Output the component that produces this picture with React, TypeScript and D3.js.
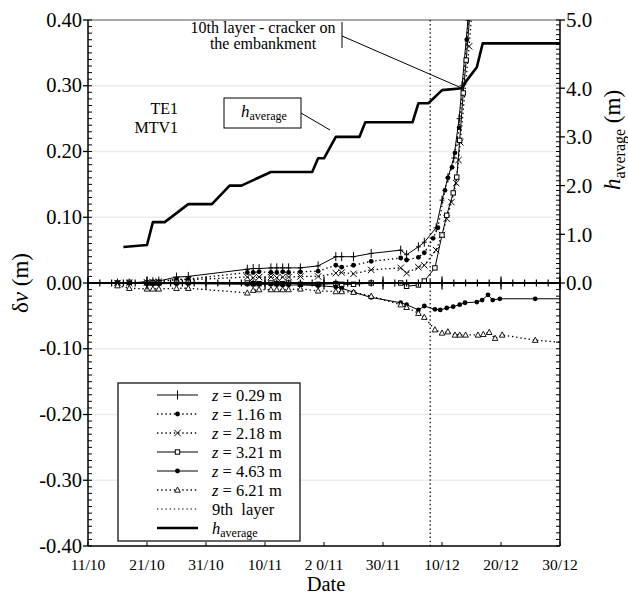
import React from 'react';
import * as d3 from 'd3';

const YEAR = 2008;
const parseD = (s: string) => {
  const [d, m] = s.replace(/\s/g, '').split('/');
  return new Date(Date.UTC(YEAR, +m - 1, 1) + (parseFloat(d) - 1) * 864e5);
};

// ---- axis ticks ----
const xTickLabels = ['11/10', '21/10', '31/10', '10/11', '2 0/11', '30/11', '10/12', '20/12', '30/12'];
const yLeftTicks = [-0.4, -0.3, -0.2, -0.1, 0, 0.1, 0.2, 0.3, 0.4];
const yRightTickValues = [0, 1, 2, 3, 4, 5.4];
const yRightTickLabels = ['0.0', '1.0', '2.0', '3.0', '4.0', '5.0'];

// ---- measurement data (dd/mm) ----
const earlyDates = ['16/10', '18/10', '21/10', '22/10', '23/10', '26/10', '28/10', '7/11', '8/11', '9/11', '11/11', '12/11', '13/11', '14/11', '16/11', '19/11', '22/11', '23/11', '25/11', '28/11', '3/12', '4/12', '6/12', '7/12'];

const z029Early = [0.0, 0.0, 0.002, 0.002, 0.003, 0.009, 0.01, 0.021, 0.022, 0.022, 0.023, 0.023, 0.023, 0.023, 0.023, 0.026, 0.04, 0.04, 0.04, 0.045, 0.05, 0.043, 0.055, 0.062];
const z029LateDates = ['9/12', '10/12', '11/12', '12/12', '12.9/12', '13.4/12', '14.4/12', '15.2/12'];
const z029Late = [0.084, 0.126, 0.16, 0.19, 0.25, 0.3, 0.4, 0.47];

const z116Early = [0.0, 0.0, 0.001, 0.002, 0.002, 0.006, 0.006, 0.016, 0.016, 0.017, 0.016, 0.016, 0.017, 0.016, 0.017, 0.018, 0.027, 0.024, 0.027, 0.033, 0.038, 0.035, 0.039, 0.046];
const z116LateDates = ['8.5/12', '9.3/12', '10.5/12', '11/12', '11.7/12', '12.2/12', '12.9/12', '14.2/12', '15/12'];
const z116Late = [0.068, 0.084, 0.141, 0.16, 0.176, 0.198, 0.236, 0.37, 0.45];

const z218Early = [0.0, 0.0, 0.001, 0.001, 0.002, 0.005, 0.005, 0.009, 0.008, 0.009, 0.009, 0.008, 0.009, 0.009, 0.01, 0.01, 0.015, 0.016, 0.014, 0.02, 0.023, 0.015, 0.024, 0.027];
const z218LateDates = ['9/12', '10/12', '10.8/12', '11.6/12', '12.4/12', '12.8/12', '13.1/12', '14.6/12', '15.4/12'];
const z218Late = [0.05, 0.073, 0.098, 0.123, 0.152, 0.187, 0.214, 0.36, 0.45];

const z321Early = [0.0, 0.001, 0.0, 0.0, 0.0, 0.001, 0.001, 0.0, -0.001, -0.001, 0.0, -0.001, -0.001, 0.0, -0.002, -0.002, -0.001, -0.002, -0.002, 0.0, 0.0, -0.005, -0.003, 0.003];
const z321LateDates = ['8.8/12', '10/12', '10.8/12', '11.9/12', '12.5/12', '13/12', '13.6/12', '14.1/12', '15/12'];
const z321Late = [0.023, 0.073, 0.103, 0.137, 0.161, 0.217, 0.289, 0.339, 0.44];

const z463Early = [0.0, 0.0, -0.001, -0.001, -0.001, -0.001, -0.001, -0.002, -0.002, -0.002, -0.002, -0.002, -0.003, -0.003, -0.003, -0.004, -0.006, -0.008, -0.014, -0.022, -0.03, -0.033, -0.041, -0.035];
const z463LateDates = ['8.8/12', '9.7/12', '10.8/12', '11.9/12', '13/12', '13.9/12', '15.9/12', '16.8/12', '17.8/12', '18.6/12', '19.8/12', '25.8/12', '30/12'];
const z463Late = [-0.04, -0.041, -0.038, -0.036, -0.033, -0.03, -0.029, -0.026, -0.018, -0.026, -0.024, -0.024, -0.024];

const z621Early = [-0.004, -0.008, -0.009, -0.009, -0.009, -0.008, -0.008, -0.015, -0.011, -0.01, -0.01, -0.01, -0.01, -0.01, -0.009, -0.012, -0.013, -0.013, -0.014, -0.02, -0.033, -0.037, -0.046, -0.052];
const z621LateDates = ['8.8/12', '10/12', '11/12', '12.2/12', '13/12', '14/12', '16.1/12', '17/12', '18/12', '19/12', '20.2/12', '25.8/12', '30/12'];
const z621Late = [-0.071, -0.076, -0.074, -0.079, -0.079, -0.079, -0.079, -0.078, -0.075, -0.084, -0.079, -0.087, -0.09];

const hDates = ['17/10', '21/10', '22/10', '24/10', '28/10', '1/11', '4/11', '6/11', '11/11', '18/11', '19/11', '20/11', '22/11', '26/11', '27/11', '5/12', '6/12', '7.7/12', '10/12', '13.4/12', '14.2/12', '15.9/12', '16.9/12', '30/12'];
const hValues = [0.74, 0.78, 1.25, 1.25, 1.62, 1.62, 2.0, 2.0, 2.28, 2.28, 2.56, 2.56, 3.0, 3.0, 3.3, 3.3, 3.69, 3.69, 3.96, 4.0, 4.16, 4.43, 4.92, 4.92];

const ninthLayerDate = '8/12';

type MarkerType = 'plus' | 'dot' | 'cross' | 'square' | 'triangle';
const seriesLabels = ['0.29', '1.16', '2.18', '3.21', '4.63', '6.21'];
const seriesDashed = [false, true, true, false, false, true];
const seriesMarkers: MarkerType[] = ['plus', 'dot', 'cross', 'square', 'dot', 'triangle'];
const seriesEarly = [z029Early, z116Early, z218Early, z321Early, z463Early, z621Early];
const seriesLateDates = [z029LateDates, z116LateDates, z218LateDates, z321LateDates, z463LateDates, z621LateDates];
const seriesLate = [z029Late, z116Late, z218Late, z321Late, z463Late, z621Late];

// ---- layout ----
const W = 628, H = 596;
const L = 88, R = 560, T = 20, B = 546;
const FONT = "'Liberation Serif', 'Times New Roman', 'DejaVu Serif', serif";
const DOT = '1.4 2.8';

const x = d3.scaleUtc().domain([parseD('11/10'), parseD('30/12')]).range([L, R]);
const yL = d3.scaleLinear().domain([-0.4, 0.4]).range([B, T]);
const yR = d3.scaleLinear().domain([0, 5.4]).range([yL(0), T]);

function Marker({ type, cx, cy, legend }: { type: MarkerType; cx: number; cy: number; legend?: boolean }) {
  switch (type) {
    case 'plus':
      return (
        <g stroke="#000" strokeWidth={1}>
          <line x1={cx} y1={cy - 4.5} x2={cx} y2={cy + 4.5} />
          {!legend && <line x1={cx - 2.5} y1={cy} x2={cx + 2.5} y2={cy} />}
        </g>
      );
    case 'dot':
      return <circle cx={cx} cy={cy} r={2.4} fill="#000" />;
    case 'cross':
      return (
        <g stroke="#000" strokeWidth={1}>
          <line x1={cx - 3.2} y1={cy - 3.2} x2={cx + 3.2} y2={cy + 3.2} />
          <line x1={cx - 3.2} y1={cy + 3.2} x2={cx + 3.2} y2={cy - 3.2} />
        </g>
      );
    case 'square':
      return <rect x={cx - 2.2} y={cy - 2.2} width={4.4} height={4.4} fill="#fff" stroke="#000" strokeWidth={1} />;
    case 'triangle':
      return <path d={`M${cx},${cy - 3}L${cx + 2.8},${cy + 2.2}L${cx - 2.8},${cy + 2.2}Z`} fill="#fff" stroke="#000" strokeWidth={0.9} />;
  }
  return null;
}

export default function App() {
  const line = d3
    .line<[Date, number]>()
    .x((d) => x(d[0]))
    .y((d) => yL(d[1]));
  const hLine = d3
    .line<[Date, number]>()
    .x((d) => x(d[0]))
    .y((d) => yR(d[1]));

  const series = seriesLabels.map((lab, i) => {
    const pts: [Date, number][] = [
      ...earlyDates.map((d, j) => [parseD(d), seriesEarly[i][j]] as [Date, number]),
      ...seriesLateDates[i].map((d, j) => [parseD(d), seriesLate[i][j]] as [Date, number]),
    ];
    return { lab, pts, dashed: seriesDashed[i], marker: seriesMarkers[i] };
  });
  const hPts: [Date, number][] = hDates.map((d, i) => [parseD(d), hValues[i]]);

  const xTicks = xTickLabels.map((l) => ({ l, v: parseD(l) }));
  const start = parseD('11/10');
  const minorX = d3.range(0, 81, 2).map((k) => new Date(+start + k * 864e5));
  const minorYL = d3.range(-40, 41).map((k) => k / 100);
  const minorYR = d3.range(0, 55).map((k) => k / 10);
  const domainEnd = +parseD('30/12');

  const y0 = yL(0);
  const x9 = x(parseD(ninthLayerDate));

  const legendX = 118, legendY = 383, legendW = 182, legendH = 158;
  const rowY = (i: number) => 395 + i * 19;
  const lx1 = 157, lx2 = 198, ltx = 212;

  const anchorX = x(parseD('13.4/12'));
  const anchorY = yR(4.0);

  return (
    <svg width={W} height={H} style={{ position: 'absolute', left: 0, top: 0, background: '#fff', fontFamily: FONT }}>
      <defs>
        <clipPath id="plot">
          <rect x={L} y={T} width={R - L} height={B - T} />
        </clipPath>
      </defs>
      <rect width={W} height={H} fill="#fff" />

      {/* grid */}
      {yLeftTicks
        .filter((v) => v !== 0 && Math.abs(v) < 0.4)
        .map((v) => (
          <line key={v} x1={L} x2={R} y1={yL(v)} y2={yL(v)} stroke="#ececec" strokeWidth={1.5} />
        ))}

      {/* top border */}
      <line x1={L} x2={R} y1={T} y2={T} stroke="#8a8a8a" strokeWidth={1.5} />

      {/* 9th layer */}
      <line x1={x9} x2={x9} y1={T} y2={B} stroke="#000" strokeWidth={1.2} strokeDasharray="1.5 2.6" />

      {/* h average */}
      <path d={hLine(hPts) || ''} fill="none" stroke="#000" strokeWidth={2.6} strokeLinejoin="round" />

      {/* series */}
      <g clipPath="url(#plot)">
        {series.map((s, i) => (
          <path
            key={i}
            d={line(s.pts) || ''}
            fill="none"
            stroke="#000"
            strokeWidth={s.dashed ? 1.3 : 1}
            strokeDasharray={s.dashed ? DOT : undefined}
          />
        ))}
        {series.map((s, i) => (
          <g key={'m' + i}>
            {s.pts
              .filter((p) => +p[0] < domainEnd)
              .map((p, j) => (
                <Marker key={j} type={s.marker} cx={x(p[0])} cy={yL(p[1])} />
              ))}
          </g>
        ))}
      </g>

      {/* zero line with ticks */}
      <line x1={L} x2={R} y1={y0} y2={y0} stroke="#000" strokeWidth={2.2} />
      {minorX.map((d, i) => (
        <line key={i} x1={x(d)} x2={x(d)} y1={y0 - 3.5} y2={y0 + 3.5} stroke="#000" strokeWidth={1.2} />
      ))}
      {xTicks.map((t, i) => (
        <line key={i} x1={x(t.v)} x2={x(t.v)} y1={y0 - 6.5} y2={y0 + 6.5} stroke="#000" strokeWidth={1.3} />
      ))}

      {/* bottom axis */}
      <line x1={L} x2={R} y1={B} y2={B} stroke="#000" strokeWidth={1.5} />
      {xTicks.map((t, i) => (
        <g key={i}>
          <line x1={x(t.v)} x2={x(t.v)} y1={B} y2={B - 4} stroke="#000" strokeWidth={1} />
          <text x={x(t.v)} y={570} textAnchor="middle" fontSize={15.5}>
            {t.l}
          </text>
        </g>
      ))}
      <text x={326} y={591} textAnchor="middle" fontSize={20.5}>
        Date
      </text>

      {/* left axis */}
      <line x1={L} x2={L} y1={T} y2={B} stroke="#000" strokeWidth={1.5} />
      {minorYL.map((v, i) => (
        <line key={i} x1={L} x2={L + 4} y1={yL(v)} y2={yL(v)} stroke="#000" strokeWidth={1} />
      ))}
      {yLeftTicks.map((v) => (
        <g key={v}>
          <line x1={L - 5} x2={L} y1={yL(v)} y2={yL(v)} stroke="#000" strokeWidth={1.3} />
          <text x={L - 6} y={yL(v)} dy="0.32em" textAnchor="end" fontSize={20.5}>
            {v.toFixed(2)}
          </text>
        </g>
      ))}
      <text transform={`translate(28,${y0}) rotate(-90)`} textAnchor="middle" fontSize={23}>
        δ<tspan fontStyle="italic">v</tspan> (m)
      </text>

      {/* right axis */}
      <line x1={R} x2={R} y1={T} y2={B} stroke="#000" strokeWidth={1.5} />
      {minorYR.map((v, i) => (
        <line key={i} x1={R - 4} x2={R} y1={yR(v)} y2={yR(v)} stroke="#000" strokeWidth={1} />
      ))}
      {minorYL
        .filter((v) => v < 0)
        .map((v, i) => (
          <line key={'n' + i} x1={R - 4} x2={R} y1={yL(v)} y2={yL(v)} stroke="#000" strokeWidth={1} />
        ))}
      {yRightTickValues.map((v, i) => (
        <g key={v}>
          <line x1={R} x2={R + 5} y1={yR(v)} y2={yR(v)} stroke="#000" strokeWidth={1.3} />
          <text x={R + 6} y={yR(v)} dy="0.35em" textAnchor="start" fontSize={21}>
            {yRightTickLabels[i]}
          </text>
        </g>
      ))}
      <text transform={`translate(620,140) rotate(-90)`} textAnchor="middle" fontSize={23}>
        <tspan fontStyle="italic">h</tspan>
        <tspan fontSize={16} dy={5}>
          average
        </tspan>
        <tspan dy={-5}> (m)</tspan>
      </text>

      {/* annotations */}
      <text x={178} y={114} textAnchor="end" fontSize={16}>
        TE1
      </text>
      <text x={178} y={133} textAnchor="end" fontSize={16}>
        MTV1
      </text>

      <rect x={224} y={98} width={77} height={30} fill="#fff" stroke="#000" strokeWidth={1} />
      <text x={241} y={117} fontSize={17}>
        <tspan fontStyle="italic">h</tspan>
        <tspan fontSize={12} dy={3}>
          average
        </tspan>
      </text>
      <line x1={301} y1={113} x2={330} y2={130} stroke="#000" strokeWidth={1} />

      <text x={263} y={33} textAnchor="middle" fontSize={16}>
        10th layer - cracker on
      </text>
      <text x={263} y={49} textAnchor="middle" fontSize={16}>
        the embankment
      </text>
      <line x1={342} y1={22} x2={342} y2={48} stroke="#000" strokeWidth={1} />
      <line x1={342} y1={36} x2={anchorX} y2={anchorY} stroke="#000" strokeWidth={1} />

      {/* legend */}
      <rect x={legendX} y={legendY} width={legendW} height={legendH} fill="#fff" stroke="#333" strokeWidth={1.5} />
      {series.map((s, i) => (
        <g key={'lg' + i}>
          <line
            x1={lx1}
            x2={lx2}
            y1={rowY(i)}
            y2={rowY(i)}
            stroke="#000"
            strokeWidth={s.dashed ? 1.3 : 1}
            strokeDasharray={s.dashed ? DOT : undefined}
          />
          <Marker type={s.marker} cx={(lx1 + lx2) / 2} cy={rowY(i)} legend />
          <text x={ltx} y={rowY(i)} dy="0.35em" fontSize={16.5}>
            <tspan fontStyle="italic">z</tspan> = {s.lab} m
          </text>
        </g>
      ))}
      <line x1={lx1} x2={lx2} y1={rowY(6)} y2={rowY(6)} stroke="#000" strokeWidth={1.2} strokeDasharray={DOT} />
      <text x={ltx} y={rowY(6)} dy="0.35em" fontSize={16.5} style={{ whiteSpace: 'pre' }}>
        9th  layer
      </text>
      <line x1={lx1} x2={lx2} y1={rowY(7)} y2={rowY(7)} stroke="#000" strokeWidth={2.6} />
      <text x={ltx} y={rowY(7)} dy="0.35em" fontSize={16.5}>
        <tspan fontStyle="italic">h</tspan>
        <tspan fontSize={12} dy={3}>
          average
        </tspan>
      </text>
    </svg>
  );
}
